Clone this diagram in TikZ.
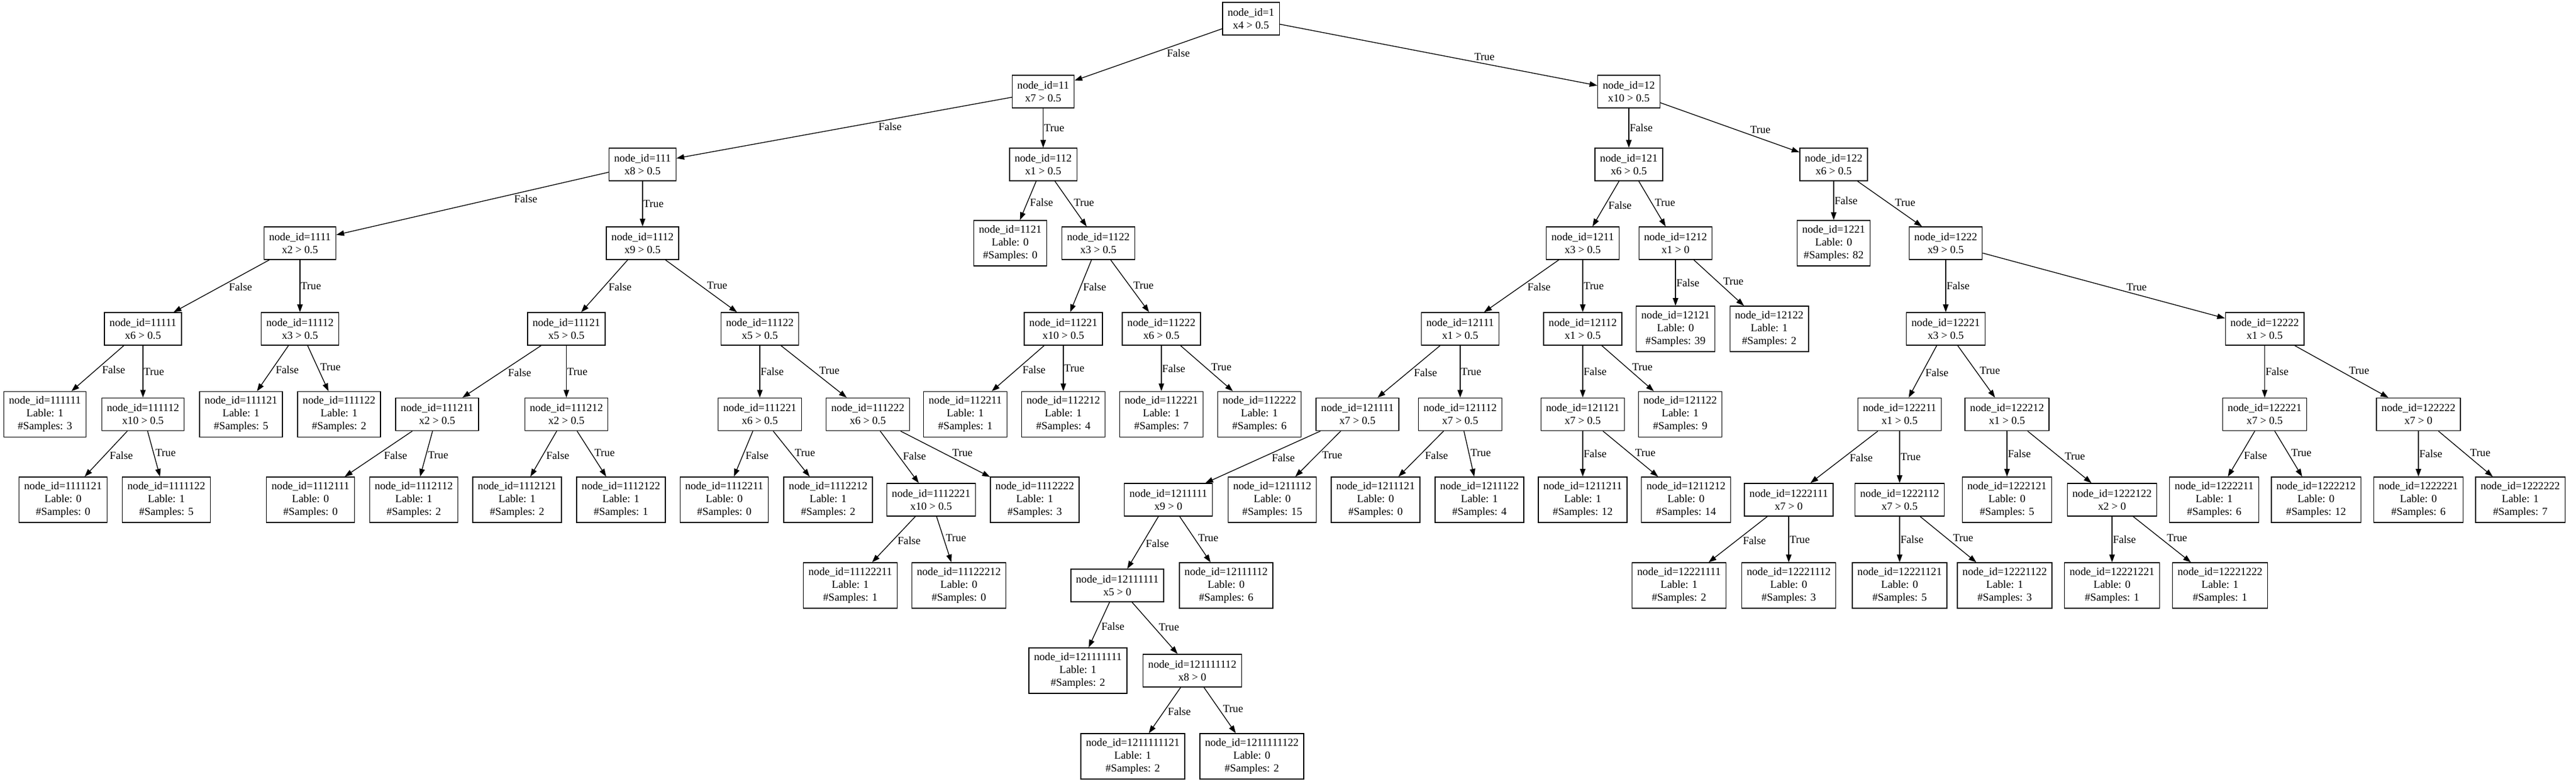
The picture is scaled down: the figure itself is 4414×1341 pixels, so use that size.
\documentclass[tikz,border=0pt]{standalone}
\usepackage{fontspec}
\setmainfont{Liberation Serif}
\usepackage{tikz}
\usetikzlibrary{arrows.meta}
\newcommand{\SplitNode}[2]{node\_id=#1\\#2}
\newcommand{\LeafNode}[3]{node\_id=#1\\Lable: #2\\\#Samples: #3}
\tikzset{
  condbox/.style={draw, align=center, inner xsep=6.5pt, inner ysep=2pt, minimum height=42pt, font=\fontsize{14}{16.5}\selectfont},
  leafbox/.style={condbox, minimum height=58.5pt},
  lbl/.style={auto, inner sep=0.6pt, font=\fontsize{14}{16.5}\selectfont},
  dl/.style={lbl, pos=.43},
  dr/.style={lbl, pos=.57},
  vt/.style={lbl, pos=.5},
}

\begin{document}
\begin{tikzpicture}[>={Triangle[length=10pt, width=7pt]}, x=0.75pt, y=-0.75pt, line width=1pt]

    \useasboundingbox (0,0) rectangle (4414,1341);
    \fill[white] (0,0) rectangle (4414,1341);

    % level 0 - 2
    \draw(2143.5,32) node[condbox] (n1) {\SplitNode{1}{x4 > 0.5}};
    \draw(1787.5,157) node[condbox] (n11) {\SplitNode{11}{x7 > 0.5}};
    \draw(2791,157) node[condbox] (n12) {\SplitNode{12}{x10 > 0.5}};
    \draw(1101,282) node[condbox] (n111) {\SplitNode{111}{x8 > 0.5}};
    \draw(1787.5,282) node[condbox] (n112) {\SplitNode{112}{x1 > 0.5}};
    \draw(2791,282) node[condbox] (n121) {\SplitNode{121}{x6 > 0.5}};
    \draw(3142,282) node[condbox] (n122) {\SplitNode{122}{x6 > 0.5}};

    % level 3
    \draw(514,417) node[condbox] (n1111) {\SplitNode{1111}{x2 > 0.5}};
    \draw(1101,417) node[condbox] (n1112) {\SplitNode{1112}{x9 > 0.5}};
    \draw(1731,417) node[leafbox] (n1121) {\LeafNode{1121}{0}{0}};
    \draw(1882,417) node[condbox] (n1122) {\SplitNode{1122}{x3 > 0.5}};
    \draw(2712,417) node[condbox] (n1211) {\SplitNode{1211}{x3 > 0.5}};
    \draw(2871,417) node[condbox] (n1212) {\SplitNode{1212}{x1 > 0}};
    \draw(3142,417) node[leafbox] (n1221) {\LeafNode{1221}{0}{82}};
    \draw(3334,417) node[condbox] (n1222) {\SplitNode{1222}{x9 > 0.5}};

    % level 4
    \draw(245,564) node[condbox] (n11111) {\SplitNode{11111}{x6 > 0.5}};
    \draw(514,564) node[condbox] (n11112) {\SplitNode{11112}{x3 > 0.5}};
    \draw(970.5,564) node[condbox] (n11121) {\SplitNode{11121}{x5 > 0.5}};
    \draw(1302,564) node[condbox] (n11122) {\SplitNode{11122}{x5 > 0.5}};
    \draw(1822,564) node[condbox] (n11221) {\SplitNode{11221}{x10 > 0.5}};
    \draw(1990,564) node[condbox] (n11222) {\SplitNode{11222}{x6 > 0.5}};
    \draw(2502,564) node[condbox] (n12111) {\SplitNode{12111}{x1 > 0.5}};
    \draw(2712,564) node[condbox] (n12112) {\SplitNode{12112}{x1 > 0.5}};
    \draw(2871,564) node[leafbox] (n12121) {\LeafNode{12121}{0}{39}};
    \draw(3031.5,564) node[leafbox] (n12122) {\LeafNode{12122}{1}{2}};
    \draw(3334,564) node[condbox] (n12221) {\SplitNode{12221}{x3 > 0.5}};
    \draw(3880.5,564) node[condbox] (n12222) {\SplitNode{12222}{x1 > 0.5}};

    % level 5
    \draw(77,710.5) node[leafbox] (n111111) {\LeafNode{111111}{1}{3}};
    \draw(245,710.5) node[condbox] (n111112) {\SplitNode{111112}{x10 > 0.5}};
    \draw(413,710.5) node[leafbox] (n111121) {\LeafNode{111121}{1}{5}};
    \draw(581,710.5) node[leafbox] (n111122) {\LeafNode{111122}{1}{2}};
    \draw(749,710.5) node[condbox] (n111211) {\SplitNode{111211}{x2 > 0.5}};
    \draw(970.5,710.5) node[condbox] (n111212) {\SplitNode{111212}{x2 > 0.5}};
    \draw(1302,710.5) node[condbox] (n111221) {\SplitNode{111221}{x6 > 0.5}};
    \draw(1487,710.5) node[condbox] (n111222) {\SplitNode{111222}{x6 > 0.5}};
    \draw(1654,710.5) node[leafbox] (n112211) {\LeafNode{112211}{1}{1}};
    \draw(1822,710.5) node[leafbox] (n112212) {\LeafNode{112212}{1}{4}};
    \draw(1990,710.5) node[leafbox] (n112221) {\LeafNode{112221}{1}{7}};
    \draw(2158,710.5) node[leafbox] (n112222) {\LeafNode{112222}{1}{6}};
    \draw(2326,710.5) node[condbox] (n121111) {\SplitNode{121111}{x7 > 0.5}};
    \draw(2502,710.5) node[condbox] (n121112) {\SplitNode{121112}{x7 > 0.5}};
    \draw(2712,710.5) node[condbox] (n121121) {\SplitNode{121121}{x7 > 0.5}};
    \draw(2879,710.5) node[leafbox] (n121122) {\LeafNode{121122}{1}{9}};
    \draw(3255,710.5) node[condbox] (n122211) {\SplitNode{122211}{x1 > 0.5}};
    \draw(3439,710.5) node[condbox] (n122212) {\SplitNode{122212}{x1 > 0.5}};
    \draw(3880.5,710.5) node[condbox] (n122221) {\SplitNode{122221}{x7 > 0.5}};
    \draw(4144,710.5) node[condbox] (n122222) {\SplitNode{122222}{x7 > 0}};

    % level 6
    \draw(108,857) node[leafbox] (n1111121) {\LeafNode{1111121}{0}{0}};
    \draw(285,857) node[leafbox] (n1111122) {\LeafNode{1111122}{1}{5}};
    \draw(532,857) node[leafbox] (n1112111) {\LeafNode{1112111}{0}{0}};
    \draw(709,857) node[leafbox] (n1112112) {\LeafNode{1112112}{1}{2}};
    \draw(886,857) node[leafbox] (n1112121) {\LeafNode{1112121}{1}{2}};
    \draw(1064,857) node[leafbox] (n1112122) {\LeafNode{1112122}{1}{1}};
    \draw(1241,857) node[leafbox] (n1112211) {\LeafNode{1112211}{0}{0}};
    \draw(1419,857) node[leafbox] (n1112212) {\LeafNode{1112212}{1}{2}};
    \draw(1595.5,857) node[condbox] (n1112221) {\SplitNode{1112221}{x10 > 0.5}};
    \draw(1773,857) node[leafbox] (n1112222) {\LeafNode{1112222}{1}{3}};
    \draw(2002,857) node[condbox] (n1211111) {\SplitNode{1211111}{x9 > 0}};
    \draw(2180,857) node[leafbox] (n1211112) {\LeafNode{1211112}{0}{15}};
    \draw(2357,857) node[leafbox] (n1211121) {\LeafNode{1211121}{0}{0}};
    \draw(2535,857) node[leafbox] (n1211122) {\LeafNode{1211122}{1}{4}};
    \draw(2712,857) node[leafbox] (n1211211) {\LeafNode{1211211}{1}{12}};
    \draw(2889,857) node[leafbox] (n1211212) {\LeafNode{1211212}{0}{14}};
    \draw(3065,857) node[condbox] (n1222111) {\SplitNode{1222111}{x7 > 0}};
    \draw(3255,857) node[condbox] (n1222112) {\SplitNode{1222112}{x7 > 0.5}};
    \draw(3439,857) node[leafbox] (n1222121) {\LeafNode{1222121}{0}{5}};
    \draw(3619,857) node[condbox] (n1222122) {\SplitNode{1222122}{x2 > 0}};
    \draw(3794,857) node[leafbox] (n1222211) {\LeafNode{1222211}{1}{6}};
    \draw(3968.5,857) node[leafbox] (n1222212) {\LeafNode{1222212}{0}{12}};
    \draw(4144,857) node[leafbox] (n1222221) {\LeafNode{1222221}{0}{6}};
    \draw(4318.5,857) node[leafbox] (n1222222) {\LeafNode{1222222}{1}{7}};

    % level 7 - 9
    \draw(1457,1004) node[leafbox] (n11122211) {\LeafNode{11122211}{1}{1}};
    \draw(1643,1004) node[leafbox] (n11122212) {\LeafNode{11122212}{0}{0}};
    \draw(1914.5,1004) node[condbox] (n12111111) {\SplitNode{12111111}{x5 > 0}};
    \draw(2101,1004) node[leafbox] (n12111112) {\LeafNode{12111112}{0}{6}};
    \draw(2877,1004) node[leafbox] (n12221111) {\LeafNode{12221111}{1}{2}};
    \draw(3065,1004) node[leafbox] (n12221112) {\LeafNode{12221112}{0}{3}};
    \draw(3255,1004) node[leafbox] (n12221121) {\LeafNode{12221121}{0}{5}};
    \draw(3435,1004) node[leafbox] (n12221122) {\LeafNode{12221122}{1}{3}};
    \draw(3619,1004) node[leafbox] (n12221221) {\LeafNode{12221221}{0}{1}};
    \draw(3804,1004) node[leafbox] (n12221222) {\LeafNode{12221222}{1}{1}};
    \draw(1847,1150) node[leafbox] (n121111111) {\LeafNode{121111111}{1}{2}};
    \draw(2043,1150) node[condbox] (n121111112) {\SplitNode{121111112}{x8 > 0}};
    \draw(1941,1297) node[leafbox] (n1211111121) {\LeafNode{1211111121}{1}{2}};
    \draw(2145,1297) node[leafbox] (n1211111122) {\LeafNode{1211111122}{0}{2}};

    % edges
    \draw[->] (n1) -- (n11) node[dl, pos=.38] {False};
    \draw[->] (n1) -- (n12) node[dr, pos=.61] {True};
    \draw[->] (n11) -- (n111) node[dl, pos=.4] {False};
    \draw[->] (n11) -- (n112) node[vt] {True};
    \draw[->] (n12) -- (n121) node[vt] {False};
    \draw[->] (n12) -- (n122) node[dr, pos=.64] {True};
    \draw[->] (n111) -- (n1111) node[dl, pos=.35] {False};
    \draw[->] (n111) -- (n1112) node[vt] {True};
    \draw[->] (n112) -- (n1121) node[dl] {False};
    \draw[->] (n112) -- (n1122) node[dr] {True};
    \draw[->] (n121) -- (n1211) node[dl] {False};
    \draw[->] (n121) -- (n1212) node[dr] {True};
    \draw[->] (n122) -- (n1221) node[vt] {False};
    \draw[->] (n122) -- (n1222) node[dr] {True};
    \draw[->] (n1111) -- (n11111) node[dl] {False};
    \draw[->] (n1111) -- (n11112) node[vt] {True};
    \draw[->] (n1112) -- (n11121) node[dl] {False};
    \draw[->] (n1112) -- (n11122) node[dr] {True};
    \draw[->] (n1122) -- (n11221) node[dl] {False};
    \draw[->] (n1122) -- (n11222) node[dr] {True};
    \draw[->] (n1211) -- (n12111) node[dl] {False};
    \draw[->] (n1211) -- (n12112) node[vt] {True};
    \draw[->] (n1212) -- (n12121) node[vt] {False};
    \draw[->] (n1212) -- (n12122) node[dr] {True};
    \draw[->] (n1222) -- (n12221) node[vt] {False};
    \draw[->] (n1222) -- (n12222) node[dr, pos=.59] {True};
    \draw[->] (n11111) -- (n111111) node[dl] {False};
    \draw[->] (n11111) -- (n111112) node[vt] {True};
    \draw[->] (n11112) -- (n111121) node[dl] {False};
    \draw[->] (n11112) -- (n111122) node[dr] {True};
    \draw[->] (n11121) -- (n111211) node[dl] {False};
    \draw[->] (n11121) -- (n111212) node[vt] {True};
    \draw[->] (n11122) -- (n111221) node[vt] {False};
    \draw[->] (n11122) -- (n111222) node[dr] {True};
    \draw[->] (n11221) -- (n112211) node[dl] {False};
    \draw[->] (n11221) -- (n112212) node[vt] {True};
    \draw[->] (n11222) -- (n112221) node[vt] {False};
    \draw[->] (n11222) -- (n112222) node[dr] {True};
    \draw[->] (n12111) -- (n121111) node[dl] {False};
    \draw[->] (n12111) -- (n121112) node[vt] {True};
    \draw[->] (n12112) -- (n121121) node[vt] {False};
    \draw[->] (n12112) -- (n121122) node[dr] {True};
    \draw[->] (n12221) -- (n122211) node[dl] {False};
    \draw[->] (n12221) -- (n122212) node[dr] {True};
    \draw[->] (n12222) -- (n122221) node[vt] {False};
    \draw[->] (n12222) -- (n122222) node[dr] {True};
    \draw[->] (n111112) -- (n1111121) node[dl] {False};
    \draw[->] (n111112) -- (n1111122) node[dr] {True};
    \draw[->] (n111211) -- (n1112111) node[dl] {False};
    \draw[->] (n111211) -- (n1112112) node[dl] {True};
    \draw[->] (n111212) -- (n1112121) node[dl] {False};
    \draw[->] (n111212) -- (n1112122) node[dr] {True};
    \draw[->] (n111221) -- (n1112211) node[dl] {False};
    \draw[->] (n111221) -- (n1112212) node[dr] {True};
    \draw[->] (n111222) -- (n1112221) node[dr] {False};
    \draw[->] (n111222) -- (n1112222) node[dr] {True};
    \draw[->] (n121111) -- (n1211111) node[dl] {False};
    \draw[->] (n121111) -- (n1211112) node[dl] {True};
    \draw[->] (n121112) -- (n1211121) node[dl] {False};
    \draw[->] (n121112) -- (n1211122) node[dr] {True};
    \draw[->] (n121121) -- (n1211211) node[vt] {False};
    \draw[->] (n121121) -- (n1211212) node[dr] {True};
    \draw[->] (n122211) -- (n1222111) node[dl] {False};
    \draw[->] (n122211) -- (n1222112) node[vt] {True};
    \draw[->] (n122212) -- (n1222121) node[vt] {False};
    \draw[->] (n122212) -- (n1222122) node[dr] {True};
    \draw[->] (n122221) -- (n1222211) node[dl] {False};
    \draw[->] (n122221) -- (n1222212) node[dr] {True};
    \draw[->] (n122222) -- (n1222221) node[vt] {False};
    \draw[->] (n122222) -- (n1222222) node[dr] {True};
    \draw[->] (n1112221) -- (n11122211) node[dl] {False};
    \draw[->] (n1112221) -- (n11122212) node[dr] {True};
    \draw[->] (n1211111) -- (n12111111) node[dl] {False};
    \draw[->] (n1211111) -- (n12111112) node[dr] {True};
    \draw[->] (n1222111) -- (n12221111) node[dl] {False};
    \draw[->] (n1222111) -- (n12221112) node[vt] {True};
    \draw[->] (n1222112) -- (n12221121) node[vt] {False};
    \draw[->] (n1222112) -- (n12221122) node[dr] {True};
    \draw[->] (n1222122) -- (n12221221) node[vt] {False};
    \draw[->] (n1222122) -- (n12221222) node[dr] {True};
    \draw[->] (n12111111) -- (n121111111) node[dl] {False};
    \draw[->] (n12111111) -- (n121111112) node[dr] {True};
    \draw[->] (n121111112) -- (n1211111121) node[dl] {False};
    \draw[->] (n121111112) -- (n1211111122) node[dr] {True};

\end{tikzpicture}
\end{document}
